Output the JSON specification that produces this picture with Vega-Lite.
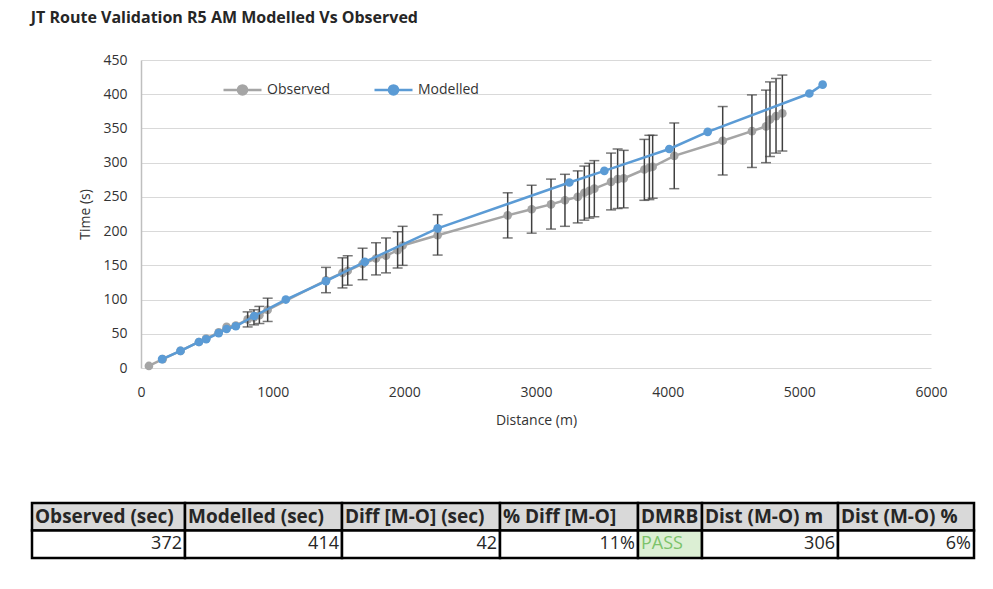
{
  "$schema": "https://vega.github.io/schema/vega-lite/v6.json",
  "background": "white",
  "padding": {"left": 30, "top": 10, "right": 15, "bottom": 5},
  "config": {
    "font": "Open Sans",
    "view": {"stroke": null},
    "title": {"color": "#262626"}
  },
  "title": {
    "text": "JT Route Validation R5 AM Modelled Vs Observed",
    "anchor": "start",
    "fontSize": 16,
    "fontWeight": "bold",
    "offset": 27
  },
  "datasets": {
    "chart": [
      {"series": "Observed", "distance": 60, "time": 3},
      {"series": "Observed", "distance": 165, "time": 13},
      {"series": "Observed", "distance": 300, "time": 25},
      {"series": "Observed", "distance": 440, "time": 38},
      {"series": "Observed", "distance": 495, "time": 43},
      {"series": "Observed", "distance": 590, "time": 52},
      {"series": "Observed", "distance": 650, "time": 60},
      {"series": "Observed", "distance": 720, "time": 62},
      {"series": "Observed", "distance": 810, "time": 71, "low": 60, "high": 82},
      {"series": "Observed", "distance": 858, "time": 74, "low": 63, "high": 85},
      {"series": "Observed", "distance": 899, "time": 77, "low": 65, "high": 90},
      {"series": "Observed", "distance": 962, "time": 85, "low": 68, "high": 102},
      {"series": "Observed", "distance": 1405, "time": 128, "low": 110, "high": 147},
      {"series": "Observed", "distance": 1530, "time": 139, "low": 117, "high": 161},
      {"series": "Observed", "distance": 1570, "time": 142, "low": 121, "high": 164},
      {"series": "Observed", "distance": 1683, "time": 152, "low": 129, "high": 175},
      {"series": "Observed", "distance": 1785, "time": 160, "low": 136, "high": 183},
      {"series": "Observed", "distance": 1861, "time": 164, "low": 139, "high": 190},
      {"series": "Observed", "distance": 1949, "time": 172, "low": 146, "high": 199},
      {"series": "Observed", "distance": 1987, "time": 179, "low": 150, "high": 207},
      {"series": "Observed", "distance": 2253, "time": 194, "low": 165, "high": 224},
      {"series": "Observed", "distance": 2785, "time": 223, "low": 190, "high": 256},
      {"series": "Observed", "distance": 2967, "time": 232, "low": 197, "high": 267},
      {"series": "Observed", "distance": 3114, "time": 239, "low": 203, "high": 276},
      {"series": "Observed", "distance": 3220, "time": 245, "low": 207, "high": 283},
      {"series": "Observed", "distance": 3317, "time": 250, "low": 212, "high": 288},
      {"series": "Observed", "distance": 3367, "time": 256, "low": 216, "high": 295},
      {"series": "Observed", "distance": 3405, "time": 259, "low": 219, "high": 299},
      {"series": "Observed", "distance": 3443, "time": 262, "low": 221, "high": 303},
      {"series": "Observed", "distance": 3570, "time": 272, "low": 231, "high": 314},
      {"series": "Observed", "distance": 3620, "time": 276, "low": 233, "high": 320},
      {"series": "Observed", "distance": 3666, "time": 277, "low": 234, "high": 318},
      {"series": "Observed", "distance": 3823, "time": 290, "low": 245, "high": 334},
      {"series": "Observed", "distance": 3861, "time": 293, "low": 246, "high": 340},
      {"series": "Observed", "distance": 3886, "time": 294, "low": 248, "high": 340},
      {"series": "Observed", "distance": 4050, "time": 310, "low": 262, "high": 358},
      {"series": "Observed", "distance": 4418, "time": 332, "low": 282, "high": 382},
      {"series": "Observed", "distance": 4640, "time": 346, "low": 293, "high": 399},
      {"series": "Observed", "distance": 4747, "time": 353, "low": 300, "high": 406},
      {"series": "Observed", "distance": 4777, "time": 363, "low": 309, "high": 418},
      {"series": "Observed", "distance": 4823, "time": 368, "low": 314, "high": 423},
      {"series": "Observed", "distance": 4871, "time": 372, "low": 317, "high": 428},
      {"series": "Modelled", "distance": 160, "time": 13},
      {"series": "Modelled", "distance": 300, "time": 25},
      {"series": "Modelled", "distance": 440, "time": 38},
      {"series": "Modelled", "distance": 495, "time": 42},
      {"series": "Modelled", "distance": 590, "time": 51},
      {"series": "Modelled", "distance": 650, "time": 57},
      {"series": "Modelled", "distance": 720, "time": 61},
      {"series": "Modelled", "distance": 860, "time": 76},
      {"series": "Modelled", "distance": 1100, "time": 100},
      {"series": "Modelled", "distance": 1405, "time": 127},
      {"series": "Modelled", "distance": 1700, "time": 155},
      {"series": "Modelled", "distance": 2253, "time": 204},
      {"series": "Modelled", "distance": 3253, "time": 271},
      {"series": "Modelled", "distance": 3519, "time": 288},
      {"series": "Modelled", "distance": 4012, "time": 320},
      {"series": "Modelled", "distance": 4304, "time": 345},
      {"series": "Modelled", "distance": 5076, "time": 401},
      {"series": "Modelled", "distance": 5177, "time": 414}
    ],
    "table": [
      {"column": "Observed (sec)", "row": "Header", "text": "Observed (sec)"},
      {"column": "Observed (sec)", "row": "Value", "text": "372"},
      {"column": "Modelled (sec)", "row": "Header", "text": "Modelled (sec)"},
      {"column": "Modelled (sec)", "row": "Value", "text": "414"},
      {"column": "Diff [M-O] (sec)", "row": "Header", "text": "Diff [M-O] (sec)"},
      {"column": "Diff [M-O] (sec)", "row": "Value", "text": "42"},
      {"column": "% Diff [M-O]", "row": "Header", "text": "% Diff [M-O]"},
      {"column": "% Diff [M-O]", "row": "Value", "text": "11%"},
      {"column": "DMRB", "row": "Header", "text": "DMRB"},
      {"column": "DMRB", "row": "Value", "text": "PASS"},
      {"column": "Dist (M-O) m", "row": "Header", "text": "Dist (M-O) m"},
      {"column": "Dist (M-O) m", "row": "Value", "text": "306"},
      {"column": "Dist (M-O) %", "row": "Header", "text": "Dist (M-O) %"},
      {"column": "Dist (M-O) %", "row": "Value", "text": "6%"}
    ]
  },
  "vconcat": [
    {
      "spacing": 0,
      "hconcat": [
        {
          "width": 46,
          "height": 10,
          "data": {"values": []},
          "mark": "point"
        },
        {
          "width": 790,
          "height": 308,
          "data": {"name": "chart"},
          "encoding": {
            "x": {
              "field": "distance",
              "type": "quantitative",
              "title": "Distance (m)",
              "scale": {"domain": [0, 6000], "nice": false},
              "axis": {
                "values": [0, 1000, 2000, 3000, 4000, 5000, 6000],
                "format": "d",
                "labelFlush": false,
                "grid": false,
                "ticks": false,
                "domain": false,
                "labelFontSize": 14,
                "labelColor": "#333333",
                "labelPadding": 17,
                "titleFontSize": 14,
                "titleFontWeight": "normal",
                "titleColor": "#333333",
                "titlePadding": 14
              }
            },
            "y": {
              "field": "time",
              "type": "quantitative",
              "title": "Time (s)",
              "scale": {"domain": [0, 450], "nice": false},
              "axis": {
                "values": [0, 50, 100, 150, 200, 250, 300, 350, 400, 450],
                "grid": true,
                "gridColor": "#d9d9d9",
                "gridWidth": 1.2,
                "ticks": false,
                "domainColor": "#bfbfbf",
                "domainWidth": 1.5,
                "labelFontSize": 14,
                "labelColor": "#333333",
                "labelPadding": 14,
                "titleFontSize": 14,
                "titleFontWeight": "normal",
                "titleColor": "#333333",
                "titlePadding": 10
              }
            },
            "color": {
              "field": "series",
              "type": "nominal",
              "scale": {"domain": ["Observed", "Modelled"], "range": ["#a5a5a5", "#5b9bd5"]},
              "legend": {
                "title": null,
                "orient": "none",
                "legendX": 190,
                "legendY": 9,
                "direction": "horizontal",
                "columnPadding": 38,
                "symbolType": "M-1,0L-0.24,0M0.24,0L1,0M-0.24,0A0.24,0.24 0 1,0 0.24,0A0.24,0.24 0 1,0 -0.24,0Z",
                "symbolSize": 1444,
                "symbolStrokeWidth": 2.5,
                "labelFontSize": 14,
                "labelColor": "#333333",
                "labelOffset": 4,
                "encode": {
                  "symbols": {
                    "update": {
                      "fill": {"scale": "color", "field": "value"},
                      "stroke": {"scale": "color", "field": "value"},
                      "opacity": {"value": 1}
                    }
                  }
                }
              }
            }
          },
          "layer": [
            {
              "transform": [{"filter": "datum.series === 'Observed'"}],
              "mark": {"type": "line", "strokeWidth": 2.5, "point": {"filled": true, "size": 75, "opacity": 1}}
            },
            {
              "transform": [{"filter": "datum.series === 'Observed' && isValid(datum.low)"}],
              "mark": {
                "type": "errorbar",
                "ticks": {"size": 10, "color": "#404040", "thickness": 1.5},
                "rule": {"color": "#404040", "strokeWidth": 1.5}
              },
              "encoding": {
                "y": {"field": "low", "type": "quantitative"},
                "y2": {"field": "high"},
                "color": {"value": "#404040"}
              }
            },
            {
              "transform": [{"filter": "datum.series === 'Modelled'"}],
              "mark": {"type": "line", "strokeWidth": 2.5, "point": {"filled": true, "size": 75, "opacity": 1}}
            }
          ]
        }
      ]
    },
    {
      "spacing": 0,
      "bounds": "flush",
      "hconcat": [
        {
          "width": 153, "height": 55,
          "data": {"name": "table"},
          "transform": [{"filter": "datum.column === 'Observed (sec)'"}],
          "encoding": {"y": {"field": "row", "type": "nominal", "axis": null, "scale": {"domain": ["Header", "Value"], "paddingInner": 0, "paddingOuter": 0}}},
          "layer": [
            {"mark": {"type": "rect", "stroke": "black", "strokeWidth": 2.5}, "encoding": {"x": {"value": 0}, "x2": {"value": "width"}, "fill": {"condition": {"test": "datum.row === 'Header'", "value": "#d9d9d9"}, "value": "white"}}},
            {"transform": [{"filter": "datum.row === 'Header'"}], "mark": {"type": "text", "align": "left", "dx": 3, "fontSize": 19, "fontWeight": "bold", "color": "#262626"}, "encoding": {"x": {"value": 0}, "text": {"field": "text"}}},
            {"transform": [{"filter": "datum.row === 'Value'"}], "mark": {"type": "text", "align": "right", "dx": -3, "fontSize": 18, "color": "#262626"}, "encoding": {"x": {"value": "width"}, "text": {"field": "text"}}}
          ]
        },
        {
          "width": 157, "height": 55,
          "data": {"name": "table"},
          "transform": [{"filter": "datum.column === 'Modelled (sec)'"}],
          "encoding": {"y": {"field": "row", "type": "nominal", "axis": null, "scale": {"domain": ["Header", "Value"], "paddingInner": 0, "paddingOuter": 0}}},
          "layer": [
            {"mark": {"type": "rect", "stroke": "black", "strokeWidth": 2.5}, "encoding": {"x": {"value": 0}, "x2": {"value": "width"}, "fill": {"condition": {"test": "datum.row === 'Header'", "value": "#d9d9d9"}, "value": "white"}}},
            {"transform": [{"filter": "datum.row === 'Header'"}], "mark": {"type": "text", "align": "left", "dx": 3, "fontSize": 19, "fontWeight": "bold", "color": "#262626"}, "encoding": {"x": {"value": 0}, "text": {"field": "text"}}},
            {"transform": [{"filter": "datum.row === 'Value'"}], "mark": {"type": "text", "align": "right", "dx": -3, "fontSize": 18, "color": "#262626"}, "encoding": {"x": {"value": "width"}, "text": {"field": "text"}}}
          ]
        },
        {
          "width": 158, "height": 55,
          "data": {"name": "table"},
          "transform": [{"filter": "datum.column === 'Diff [M-O] (sec)'"}],
          "encoding": {"y": {"field": "row", "type": "nominal", "axis": null, "scale": {"domain": ["Header", "Value"], "paddingInner": 0, "paddingOuter": 0}}},
          "layer": [
            {"mark": {"type": "rect", "stroke": "black", "strokeWidth": 2.5}, "encoding": {"x": {"value": 0}, "x2": {"value": "width"}, "fill": {"condition": {"test": "datum.row === 'Header'", "value": "#d9d9d9"}, "value": "white"}}},
            {"transform": [{"filter": "datum.row === 'Header'"}], "mark": {"type": "text", "align": "left", "dx": 3, "fontSize": 19, "fontWeight": "bold", "color": "#262626"}, "encoding": {"x": {"value": 0}, "text": {"field": "text"}}},
            {"transform": [{"filter": "datum.row === 'Value'"}], "mark": {"type": "text", "align": "right", "dx": -3, "fontSize": 18, "color": "#262626"}, "encoding": {"x": {"value": "width"}, "text": {"field": "text"}}}
          ]
        },
        {
          "width": 138, "height": 55,
          "data": {"name": "table"},
          "transform": [{"filter": "datum.column === '% Diff [M-O]'"}],
          "encoding": {"y": {"field": "row", "type": "nominal", "axis": null, "scale": {"domain": ["Header", "Value"], "paddingInner": 0, "paddingOuter": 0}}},
          "layer": [
            {"mark": {"type": "rect", "stroke": "black", "strokeWidth": 2.5}, "encoding": {"x": {"value": 0}, "x2": {"value": "width"}, "fill": {"condition": {"test": "datum.row === 'Header'", "value": "#d9d9d9"}, "value": "white"}}},
            {"transform": [{"filter": "datum.row === 'Header'"}], "mark": {"type": "text", "align": "left", "dx": 3, "fontSize": 19, "fontWeight": "bold", "color": "#262626"}, "encoding": {"x": {"value": 0}, "text": {"field": "text"}}},
            {"transform": [{"filter": "datum.row === 'Value'"}], "mark": {"type": "text", "align": "right", "dx": -3, "fontSize": 18, "color": "#262626"}, "encoding": {"x": {"value": "width"}, "text": {"field": "text"}}}
          ]
        },
        {
          "width": 64, "height": 55,
          "data": {"name": "table"},
          "transform": [{"filter": "datum.column === 'DMRB'"}],
          "encoding": {"y": {"field": "row", "type": "nominal", "axis": null, "scale": {"domain": ["Header", "Value"], "paddingInner": 0, "paddingOuter": 0}}},
          "layer": [
            {"mark": {"type": "rect", "stroke": "black", "strokeWidth": 2.5}, "encoding": {"x": {"value": 0}, "x2": {"value": "width"}, "fill": {"condition": [{"test": "datum.row === 'Header'", "value": "#d9d9d9"}, {"test": "datum.text === 'PASS'", "value": "#dcefd4"}], "value": "white"}}},
            {"transform": [{"filter": "datum.row === 'Header'"}], "mark": {"type": "text", "align": "left", "dx": 3, "fontSize": 19, "fontWeight": "bold", "color": "#262626"}, "encoding": {"x": {"value": 0}, "text": {"field": "text"}}},
            {"transform": [{"filter": "datum.row === 'Value'"}], "mark": {"type": "text", "align": "left", "dx": 3, "fontSize": 18, "color": "#7cc36b"}, "encoding": {"x": {"value": 0}, "text": {"field": "text"}}}
          ]
        },
        {
          "width": 136, "height": 55,
          "data": {"name": "table"},
          "transform": [{"filter": "datum.column === 'Dist (M-O) m'"}],
          "encoding": {"y": {"field": "row", "type": "nominal", "axis": null, "scale": {"domain": ["Header", "Value"], "paddingInner": 0, "paddingOuter": 0}}},
          "layer": [
            {"mark": {"type": "rect", "stroke": "black", "strokeWidth": 2.5}, "encoding": {"x": {"value": 0}, "x2": {"value": "width"}, "fill": {"condition": {"test": "datum.row === 'Header'", "value": "#d9d9d9"}, "value": "white"}}},
            {"transform": [{"filter": "datum.row === 'Header'"}], "mark": {"type": "text", "align": "left", "dx": 3, "fontSize": 19, "fontWeight": "bold", "color": "#262626"}, "encoding": {"x": {"value": 0}, "text": {"field": "text"}}},
            {"transform": [{"filter": "datum.row === 'Value'"}], "mark": {"type": "text", "align": "right", "dx": -3, "fontSize": 18, "color": "#262626"}, "encoding": {"x": {"value": "width"}, "text": {"field": "text"}}}
          ]
        },
        {
          "width": 136, "height": 55,
          "data": {"name": "table"},
          "transform": [{"filter": "datum.column === 'Dist (M-O) %'"}],
          "encoding": {"y": {"field": "row", "type": "nominal", "axis": null, "scale": {"domain": ["Header", "Value"], "paddingInner": 0, "paddingOuter": 0}}},
          "layer": [
            {"mark": {"type": "rect", "stroke": "black", "strokeWidth": 2.5}, "encoding": {"x": {"value": 0}, "x2": {"value": "width"}, "fill": {"condition": {"test": "datum.row === 'Header'", "value": "#d9d9d9"}, "value": "white"}}},
            {"transform": [{"filter": "datum.row === 'Header'"}], "mark": {"type": "text", "align": "left", "dx": 3, "fontSize": 19, "fontWeight": "bold", "color": "#262626"}, "encoding": {"x": {"value": 0}, "text": {"field": "text"}}},
            {"transform": [{"filter": "datum.row === 'Value'"}], "mark": {"type": "text", "align": "right", "dx": -3, "fontSize": 18, "color": "#262626"}, "encoding": {"x": {"value": "width"}, "text": {"field": "text"}}}
          ]
        }
      ]
    }
  ],
  "spacing": 74
}
